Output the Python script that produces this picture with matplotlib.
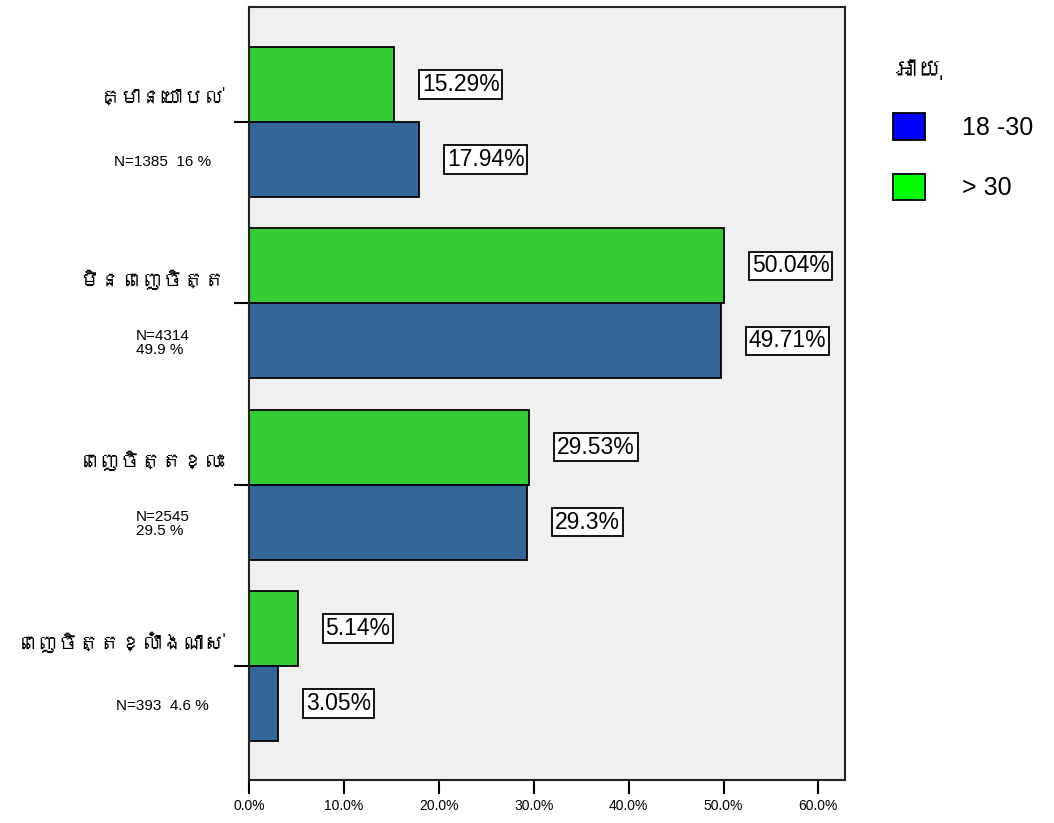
import matplotlib
matplotlib.use("Agg")
import matplotlib.pyplot as plt
from matplotlib.patches import Patch
from matplotlib import font_manager
from matplotlib.ft2font import FT2Font
import numpy as np

# ---- data ----
categories = ["គ្មានយោបល់", "មិនពេញចិត្ត", "ពេញចិត្តខ្លះ", "ពេញចិត្តខ្លាំងណាស់"]
n_labels = ["N=1385  16 %", "N=4314\n49.9 %", "N=2545\n29.5 %", "N=393  4.6 %"]
series_names = ["18 -30", "> 30"]
young = [17.94, 49.71, 29.30, 3.05]     # 18-30
older = [15.29, 50.04, 29.53, 5.14]     # > 30
young_labels = ["17.94%", "49.71%", "29.3%", "3.05%"]
older_labels = ["15.29%", "50.04%", "29.53%", "5.14%"]
xticks = [0, 10, 20, 30, 40, 50, 60]
legend_title = "អាយុ"


def find_khmer_family():
    for f in font_manager.fontManager.ttflist:
        try:
            cmap = FT2Font(f.fname).get_charmap()
        except Exception:
            continue
        if 0x1780 in cmap and 0x17D2 in cmap:
            return f.name
    return None


khmer = find_khmer_family()
khmer_fam = ([khmer] if khmer else []) + ["Noto Sans", "DejaVu Sans"]
cat_size = 15 if khmer else 12

# ---- style ----
bar_blue = "#336699"
bar_green = "#33CC33"
leg_blue = "#0000FF"
leg_green = "#00FF00"
plt.rcParams["font.family"] = ["Liberation Sans", "DejaVu Sans", "Noto Sans"]

fig = plt.figure(figsize=(10.54, 8.23), dpi=100)
ax = fig.add_axes([249 / 1054, 1 - 780 / 823, 596 / 1054, 773 / 823])
ax.set_facecolor("#F0F0F0")

y = np.arange(len(categories))
h = 0.414
ax.barh(y - h / 2, older, height=h, color=bar_green, edgecolor="black", linewidth=1.3)
ax.barh(y + h / 2, young, height=h, color=bar_blue, edgecolor="black", linewidth=1.3)

box = dict(boxstyle="square,pad=0.12", facecolor="white", edgecolor="black", linewidth=1.3)
for i in range(len(categories)):
    ax.annotate(older_labels[i], xy=(older[i], y[i] - h / 2), xytext=(20, 0),
                textcoords="offset points", ha="left", va="center",
                fontsize=16.5, bbox=box)
    ax.annotate(young_labels[i], xy=(young[i], y[i] + h / 2), xytext=(20, 0),
                textcoords="offset points", ha="left", va="center",
                fontsize=16.5, bbox=box)

ax.set_xlim(0, 62.8)
ax.set_ylim(3.63, -0.635)
ax.set_xticks(xticks)
ax.set_xticklabels([f"{v:.1f}%" for v in xticks], fontsize=10)
ax.set_yticks(y)
ax.set_yticklabels([])
ax.tick_params(axis="x", direction="out", length=10, width=1.5, pad=4)
ax.tick_params(axis="y", direction="out", length=11, width=1.5)
for s in ax.spines.values():
    s.set_linewidth(1.5)
    s.set_color("#222222")

trans = matplotlib.transforms.blended_transform_factory(ax.transAxes, ax.transData)
for i, cat in enumerate(categories):
    ax.text(-0.04, y[i] - 0.13, cat, transform=trans, ha="right", va="center",
            fontsize=cat_size, family=khmer_fam)
    ax.text(-0.145, y[i] + 0.22, n_labels[i], transform=trans, ha="center", va="center",
            fontsize=11, multialignment="left", linespacing=1.0)

handles = [Patch(facecolor=leg_blue, edgecolor="black", linewidth=1.3),
           Patch(facecolor=leg_green, edgecolor="black", linewidth=1.3)]
leg = fig.legend(handles, series_names, title=legend_title, loc="upper left",
                 bbox_to_anchor=(870 / 1054, 1 - 36 / 823), frameon=False,
                 fontsize=18, title_fontsize=18, handlelength=1.3, handleheight=1.25,
                 labelspacing=1.35, handletextpad=1.5, alignment="left")
leg.get_title().set_family(khmer_fam)
leg.get_title().set_fontsize(18 if khmer else 14)

fig.savefig("out.png", dpi=100)
